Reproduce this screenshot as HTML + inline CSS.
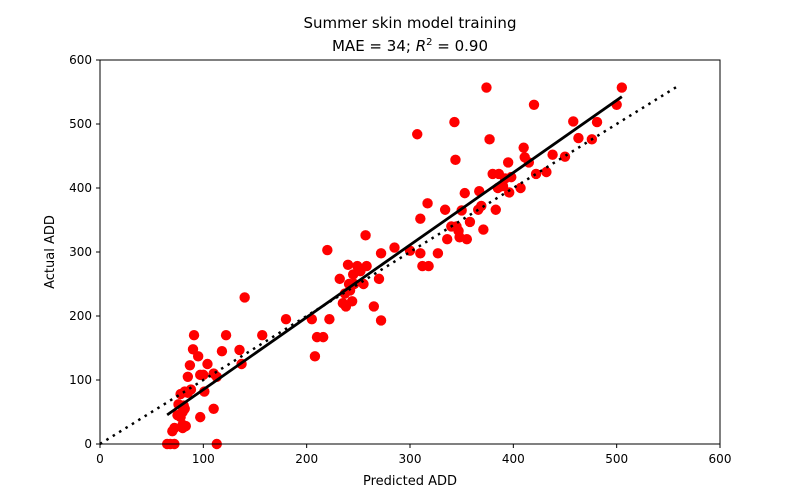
<!DOCTYPE html>
<html><head><meta charset="utf-8"><style>
body{margin:0;background:#fff;}
svg{display:block;font-family:"DejaVu Sans","Liberation Sans",sans-serif;}
</style></head><body>
<svg id="chart" width="800" height="500">
<text x="410" y="28" text-anchor="middle" font-size="15">Summer skin model training</text>
<text x="410" y="51" text-anchor="middle" font-size="15">MAE = 34; <tspan font-style="italic">R</tspan><tspan dy="-6" font-size="10">2</tspan><tspan dy="6"> = 0.90</tspan></text>
<g id="marks"></g>
<rect x="100" y="60" width="620" height="384" fill="none" stroke="#000" stroke-width="1"/>
<g id="axes"></g>
<text x="410" y="485" text-anchor="middle" font-size="13">Predicted ADD</text>
<text x="54" y="252" text-anchor="middle" font-size="13" transform="rotate(-90 54 252)">Actual ADD</text>
</svg>
<script>
const predicted=[65,68,72,113,70,72,80,83,80,75,78,97,110,80,82,81,76,78,82,88,85,85,87,90,91,95,97,100,101,104,110,113,118,122,135,137,140,157,180,205,208,210,216,220,222,232,235,237,238,240,241,242,244,245,246,249,252,255,257,258,265,270,272,272,285,300,307,310,310,312,317,318,327,334,336,340,343,344,345,347,348,350,353,355,358,366,367,369,371,374,377,380,383,385,386,390,392,395,396,398,407,410,411,415,420,422,432,438,450,458,463,476,481,500,505];
const actual=[0,0,0,0,20,25,25,28,30,45,42,42,55,50,55,60,62,78,82,85,80,105,123,148,170,137,108,108,82,125,110,105,145,170,147,125,229,170,195,195,137,167,167,303,195,258,220,235,215,280,250,240,223,265,250,278,270,250,326,278,215,258,193,298,307,302,484,352,298,278,376,278,298,366,320,340,503,444,340,333,323,365,392,320,347,366,395,372,335,557,476,422,366,400,422,403,415,440,393,417,400,463,448,440,530,422,425,452,449,504,478,476,503,530,557];
const fitX=[65,505];
const fitSlope=1.13, fitIntercept=-28;
const identityX=[0,560];
const xTicks=[0,100,200,300,400,500,600];
const yTicks=[0,100,200,300,400,500,600];
const X=v=>100+v*620/600, Y=v=>444-v*384/600;
const NS="http://www.w3.org/2000/svg";
const marks=document.getElementById('marks'), axes=document.getElementById('axes');
function mk(p,tag,a){const e=document.createElementNS(NS,tag);for(const k in a)e.setAttribute(k,a[k]);p.appendChild(e);return e;}
predicted.forEach((p,i)=>{const c=mk(marks,'circle',{cx:X(p),cy:Y(actual[i]),r:5.2,fill:'#ff0000'});

});
const fl=mk(marks,'line',{x1:X(fitX[0]),y1:Y(fitSlope*fitX[0]+fitIntercept),x2:X(fitX[1]),y2:Y(fitSlope*fitX[1]+fitIntercept),stroke:'#000','stroke-width':2.8});


const il=mk(marks,'line',{x1:X(identityX[0]),y1:Y(identityX[0]),x2:X(identityX[1]),y2:Y(identityX[1]),stroke:'#000','stroke-width':2.5,'stroke-dasharray':'2.5 5'});


xTicks.forEach(t=>{mk(axes,'line',{x1:X(t),y1:444,x2:X(t),y2:448,stroke:'#000'});
const tx=mk(axes,'text',{x:X(t),y:463,'text-anchor':'middle','font-size':12});tx.textContent=t;

});
yTicks.forEach(t=>{mk(axes,'line',{x1:96,y1:Y(t),x2:100,y2:Y(t),stroke:'#000'});
const ty=mk(axes,'text',{x:92,y:Y(t)+4,'text-anchor':'end','font-size':12});ty.textContent=t;

});
</script>
</body></html>
